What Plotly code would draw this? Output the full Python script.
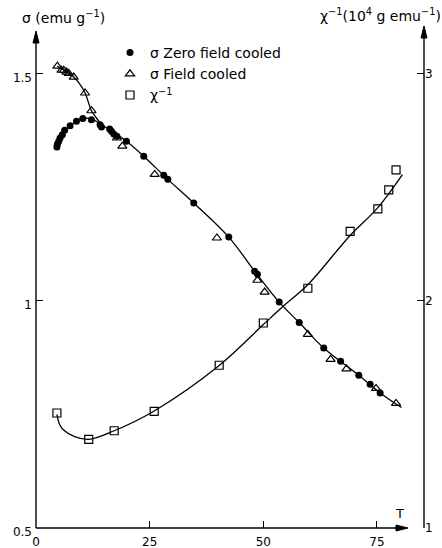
import plotly.graph_objects as go

# Magnetisation sigma (emu g^-1) against temperature T (K)
T_zfc = [4.6, 4.7, 5.0, 5.3, 5.8, 6.3, 7.5, 8.9, 10.3, 12.2, 14.1, 14.4, 16.2, 16.6,
         17.1, 17.8, 19.9, 23.7, 28.1, 29.0, 34.7, 42.4, 48.1, 48.7, 53.5, 57.9,
         63.3, 67.0, 71.0, 73.5, 75.7]
sigma_zfc = [1.338, 1.344, 1.351, 1.358, 1.365, 1.375, 1.385, 1.395, 1.401, 1.398,
             1.387, 1.382, 1.378, 1.373, 1.367, 1.362, 1.351, 1.318, 1.276, 1.267,
             1.215, 1.140, 1.065, 1.058, 0.997, 0.952, 0.896, 0.867, 0.836, 0.816,
             0.797]

T_fc = [4.7, 5.6, 6.1, 6.7, 7.2, 8.3, 10.8, 12.2, 17.8, 19.0, 26.1, 39.8, 48.7,
        50.3, 59.8, 64.8, 68.3, 74.8, 79.2]
sigma_fc = [1.516, 1.507, 1.507, 1.503, 1.500, 1.492, 1.457, 1.418, 1.358, 1.340,
            1.278, 1.138, 1.045, 1.019, 0.926, 0.871, 0.850, 0.807, 0.774]

# Inverse susceptibility (10^4 g emu^-1)
T_chi = [4.6, 11.6, 17.2, 26.0, 40.3, 50.0, 59.8, 69.1, 75.2, 77.6, 79.2]
chi_inv = [1.506, 1.390, 1.428, 1.513, 1.716, 1.902, 2.055, 2.305, 2.404, 2.488, 2.576]

# Smooth guide curves through the measurements
T_curve_zfc = [4.6, 5.8, 7.5, 10.3, 12.2, 14.4, 16.6, 19.9, 23.7, 29.0, 34.7, 42.4,
               48.1, 53.5, 57.9, 63.3, 71.0, 75.7, 80.4]
sigma_curve_zfc = [1.338, 1.365, 1.385, 1.401, 1.400, 1.387, 1.373, 1.351, 1.318,
                   1.267, 1.215, 1.140, 1.065, 0.997, 0.952, 0.896, 0.836, 0.797, 0.765]
T_curve_fc = [4.7, 6.7, 8.3, 9.6, 10.8, 12.2, 13.3, 14.4]
sigma_curve_fc = [1.516, 1.504, 1.492, 1.477, 1.457, 1.418, 1.402, 1.387]
T_curve_chi = [4.6, 5.2, 6.0, 8.5, 11.6, 17.2, 26.0, 40.3, 50.0, 54.0, 60.0, 69.0,
               75.0, 80.6]
chi_curve = [1.50, 1.455, 1.432, 1.402, 1.390, 1.428, 1.515, 1.715, 1.895, 1.969,
             2.075, 2.285, 2.405, 2.555]

x_ticks = [0, 25, 50, 75]
y_ticks = [0.5, 1, 1.5]
y_ticktext = ["0.5", "1", "1.5"]
y2_ticks = [1, 2, 3]

W, H = 442, 548
L, R, B, TOP = 36, 18, 20, 28
PW, PH = W - L - R, H - TOP - B
FONT = "DejaVu Sans"
INK = "black"


def px(x):
    return (x - L) / PW


def py(y):
    return (H - B - y) / PH


fig = go.Figure()

line_style = dict(color=INK, width=1.3, shape="spline", smoothing=1.0)
fig.add_trace(go.Scatter(x=T_curve_zfc, y=sigma_curve_zfc, mode="lines",
                         line=line_style, showlegend=False, hoverinfo="skip"))
fig.add_trace(go.Scatter(x=T_curve_fc, y=sigma_curve_fc, mode="lines",
                         line=line_style, showlegend=False, hoverinfo="skip"))
fig.add_trace(go.Scatter(x=T_curve_chi, y=chi_curve, mode="lines", yaxis="y2",
                         line=line_style, showlegend=False, hoverinfo="skip"))

fig.add_trace(go.Scatter(x=T_zfc, y=sigma_zfc, mode="markers",
                         name="σ Zero field cooled",
                         marker=dict(symbol="circle", size=7, color=INK)))
fig.add_trace(go.Scatter(x=T_fc, y=sigma_fc, mode="markers",
                         name="σ Field cooled",
                         marker=dict(symbol="triangle-up-open", size=8, color=INK,
                                     line=dict(width=1.2, color=INK))))
fig.add_trace(go.Scatter(x=T_chi, y=chi_inv, mode="markers", yaxis="y2",
                         name="χ<sup>−1</sup>",
                         marker=dict(symbol="square-open", size=8, color=INK,
                                     line=dict(width=1.2, color=INK))))

# Axis lines with arrowheads
shapes = []
lw = dict(color=INK, width=1.4)
shapes.append(dict(type="line", xref="paper", yref="paper",
                   x0=px(36), y0=py(528), x1=px(36), y1=py(40), line=lw))
shapes.append(dict(type="path", xref="paper", yref="paper", fillcolor=INK,
                   line=dict(color=INK, width=1),
                   path=f"M{px(36)},{py(31)} L{px(33)},{py(43)} L{px(39)},{py(43)} Z"))
shapes.append(dict(type="line", xref="paper", yref="paper",
                   x0=px(424), y0=py(528), x1=px(424), y1=py(36), line=lw))
shapes.append(dict(type="path", xref="paper", yref="paper", fillcolor=INK,
                   line=dict(color=INK, width=1),
                   path=f"M{px(424)},{py(26)} L{px(421)},{py(38)} L{px(427)},{py(38)} Z"))
shapes.append(dict(type="line", xref="paper", yref="paper",
                   x0=px(36), y0=py(528), x1=px(398), y1=py(528), line=lw))
shapes.append(dict(type="path", xref="paper", yref="paper", fillcolor=INK,
                   line=dict(color=INK, width=1),
                   path=f"M{px(408)},{py(528)} L{px(396)},{py(525)} L{px(396)},{py(531)} Z"))

annotations = [
    dict(text="σ (emu g<sup>−1</sup>)", xref="paper", yref="paper",
         x=px(63), y=py(17), xanchor="center", yanchor="middle", showarrow=False,
         font=dict(family=FONT, size=14, color=INK)),
    dict(text="χ<sup>−1</sup>(10<sup>4</sup> g emu<sup>−1</sup>)", xref="paper",
         yref="paper", x=px(380), y=py(15), xanchor="center", yanchor="middle",
         showarrow=False, font=dict(family=FONT, size=14, color=INK)),
    dict(text="T", xref="paper", yref="paper", x=px(399), y=py(513),
         xanchor="center", yanchor="middle", showarrow=False,
         font=dict(family=FONT, size=13, color=INK)),
]

axis_common = dict(showgrid=False, zeroline=False, showline=False, ticks="inside",
                   ticklen=7, tickwidth=1.3, tickcolor=INK, automargin=False,
                   tickfont=dict(family=FONT, size=12, color=INK))

fig.update_layout(
    width=W, height=H,
    margin=dict(l=L, r=R, t=TOP, b=B, pad=0),
    paper_bgcolor="white", plot_bgcolor="white",
    font=dict(family=FONT, size=13, color=INK),
    xaxis=dict(range=[0, PW / 4.546], tickvals=x_ticks, ticklabelstandoff=5,
               **axis_common),
    yaxis=dict(range=[0.5, 1.6], tickvals=y_ticks, ticktext=y_ticktext,
               ticklabelshift=4, ticklabelstandoff=3, **axis_common),
    yaxis2=dict(range=[1.0, 3.2], tickvals=y2_ticks, overlaying="y", side="right",
                anchor="x", **axis_common),
    legend=dict(x=px(110), y=py(37), xanchor="left", yanchor="top",
                bgcolor="rgba(0,0,0,0)", font=dict(family=FONT, size=14, color=INK),
                tracegroupgap=0),
    shapes=shapes,
    annotations=annotations,
)

fig.write_html("out.html")
